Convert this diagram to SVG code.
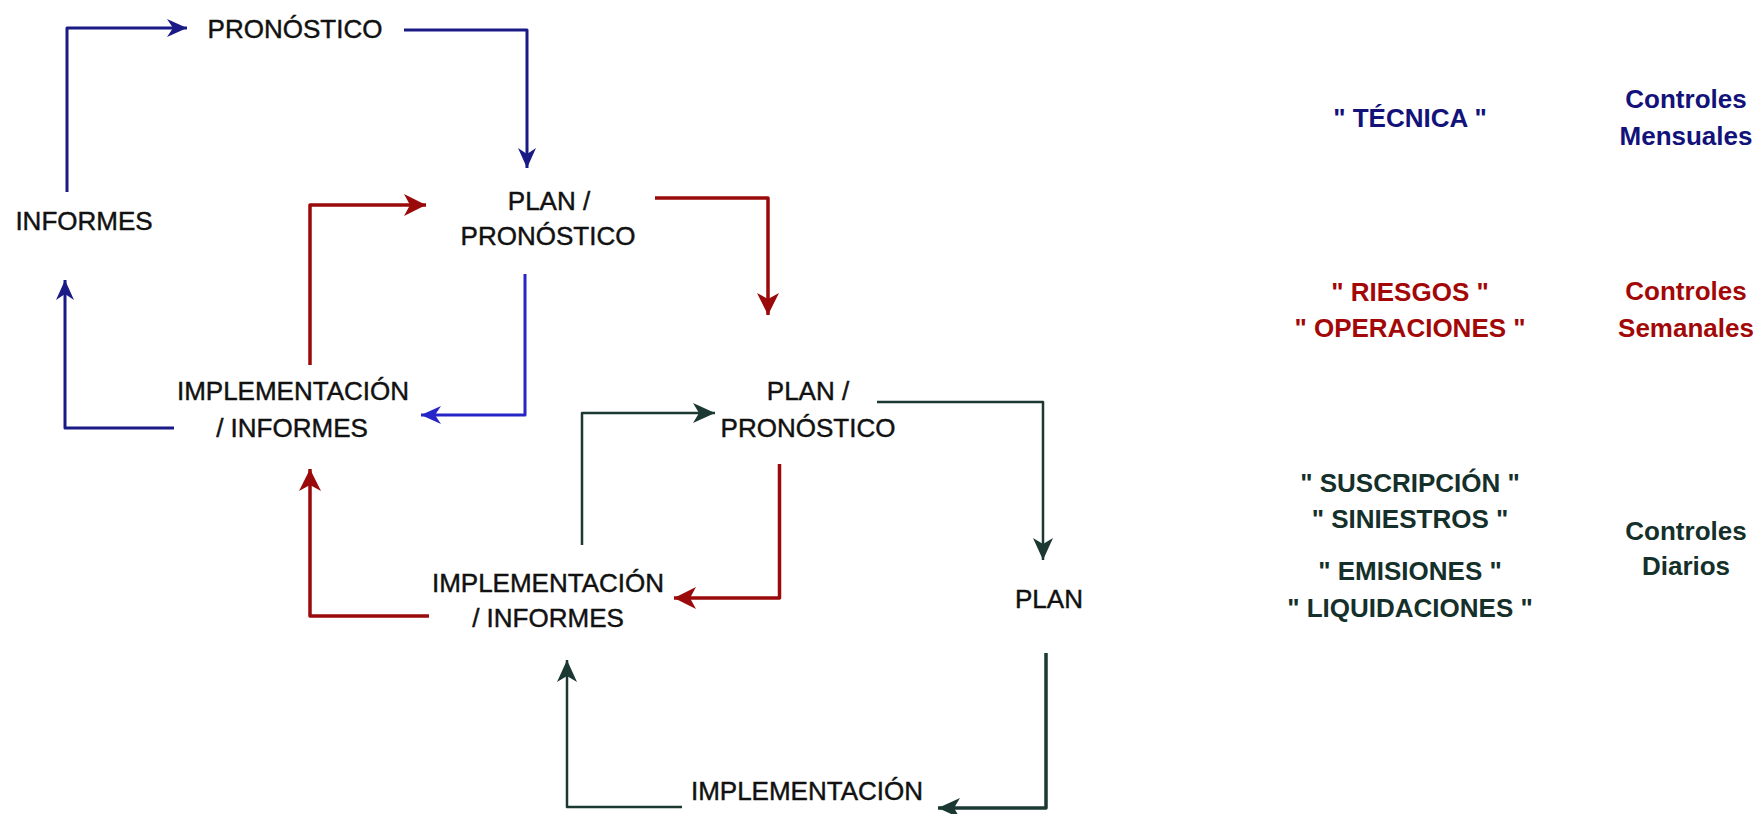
<svg xmlns="http://www.w3.org/2000/svg" width="1762" height="814" viewBox="0 0 1762 814">
  <style>
    .lbl { font-family: "Liberation Sans", Arial, sans-serif; font-size: 26px; fill: #111; stroke: #111; stroke-width: 0.45; text-anchor: middle; }
    .tag { font-family: "Liberation Sans", Arial, sans-serif; font-size: 26px; font-weight: bold; text-anchor: middle; }
    .blue { fill: #12127a; }
    .red { fill: #a30808; }
    .dark { fill: #15302b; }
    .c { fill: none; stroke-linejoin: round; }
    .cb { stroke: #1a1a86; stroke-width: 3; }
    .cb2 { stroke: #2626c8; stroke-width: 3; }
    .cr { stroke: #9a0a0a; stroke-width: 3.5; }
    .cd { stroke: #1b3832; stroke-width: 2.5; }
  </style>
  <defs>
    <marker id="hb" markerUnits="userSpaceOnUse" markerWidth="21" markerHeight="20" refX="20" refY="10" orient="auto">
      <path d="M0,1 L20,10 L0,19 L6,10 Z" fill="#1a1a86"/>
    </marker>
    <marker id="hb2" markerUnits="userSpaceOnUse" markerWidth="21" markerHeight="20" refX="20" refY="10" orient="auto">
      <path d="M0,1 L20,10 L0,19 L6,10 Z" fill="#2626c8"/>
    </marker>
    <marker id="hr" markerUnits="userSpaceOnUse" markerWidth="23" markerHeight="24" refX="22" refY="12" orient="auto">
      <path d="M0,1 L22,12 L0,23 L6,12 Z" fill="#9a0a0a"/>
    </marker>
    <marker id="hd" markerUnits="userSpaceOnUse" markerWidth="23" markerHeight="22" refX="22" refY="11" orient="auto">
      <path d="M0,1 L22,11 L0,21 L6,11 Z" fill="#1b3832"/>
    </marker>
  </defs>

  <rect width="1762" height="814" fill="#ffffff"/>

  <!-- connectors -->
  <g id="connectors">
    <!-- monthly loop -->
    <path class="c cb" d="M67,192 V28 H187" marker-end="url(#hb)"/>
    <path class="c cb" d="M404,30 H527 V168" marker-end="url(#hb)"/>
    <path class="c cb2" d="M525,274 V415 H421" marker-end="url(#hb2)"/>
    <path class="c cb" d="M174,428 H65 V280" marker-end="url(#hb)"/>
    <!-- weekly loop -->
    <path class="c cr" d="M310,365 V205 H426" marker-end="url(#hr)"/>
    <path class="c cr" d="M655,198 H768 V315" marker-end="url(#hr)"/>
    <path class="c cr" d="M779.5,464 V598 H674" marker-end="url(#hr)"/>
    <path class="c cr" d="M429,616 H310 V469" marker-end="url(#hr)"/>
    <!-- daily loop -->
    <path class="c cd" d="M582,545 V413 H715" marker-end="url(#hd)"/>
    <path class="c cd" d="M877,402 H1043 V560" marker-end="url(#hd)"/>
    <path class="c cd" d="M1046,653 V808 H938" style="stroke-width:3.5" marker-end="url(#hd)"/>
    <path class="c cd" d="M682,807 H567 V660" marker-end="url(#hd)"/>
  </g>

  <!-- nodes -->
  <g id="n-pronostico">
    <text class="lbl" x="295" y="38">PRONÓSTICO</text>
  </g>
  <g id="n-informes">
    <text class="lbl" x="84" y="230">INFORMES</text>
  </g>
  <g id="n-plan-pronostico-1">
    <text class="lbl" x="549" y="210">PLAN /</text>
    <text class="lbl" x="548" y="245">PRONÓSTICO</text>
  </g>
  <g id="n-impl-informes-1">
    <text class="lbl" x="293" y="400">IMPLEMENTACIÓN</text>
    <text class="lbl" x="292" y="437">/ INFORMES</text>
  </g>
  <g id="n-plan-pronostico-2">
    <text class="lbl" x="808" y="400">PLAN /</text>
    <text class="lbl" x="808" y="437">PRONÓSTICO</text>
  </g>
  <g id="n-impl-informes-2">
    <text class="lbl" x="548" y="592">IMPLEMENTACIÓN</text>
    <text class="lbl" x="548" y="627">/ INFORMES</text>
  </g>
  <g id="n-plan">
    <text class="lbl" x="1049" y="608">PLAN</text>
  </g>
  <g id="n-implementacion">
    <text class="lbl" x="807" y="800">IMPLEMENTACIÓN</text>
  </g>

  <!-- areas and control frequency -->
  <g id="legend-mensual">
    <text class="tag blue" x="1410" y="127">" TÉCNICA "</text>
    <text class="tag blue" x="1686" y="108">Controles</text>
    <text class="tag blue" x="1686" y="145">Mensuales</text>
  </g>
  <g id="legend-semanal">
    <text class="tag red" x="1410" y="301">" RIESGOS "</text>
    <text class="tag red" x="1410" y="337">" OPERACIONES "</text>
    <text class="tag red" x="1686" y="300">Controles</text>
    <text class="tag red" x="1686" y="337">Semanales</text>
  </g>
  <g id="legend-diario">
    <text class="tag dark" x="1410" y="492">" SUSCRIPCIÓN "</text>
    <text class="tag dark" x="1410" y="528">" SINIESTROS "</text>
    <text class="tag dark" x="1410" y="580">" EMISIONES "</text>
    <text class="tag dark" x="1410" y="617">" LIQUIDACIONES "</text>
    <text class="tag dark" x="1686" y="540">Controles</text>
    <text class="tag dark" x="1686" y="575">Diarios</text>
  </g>
</svg>
